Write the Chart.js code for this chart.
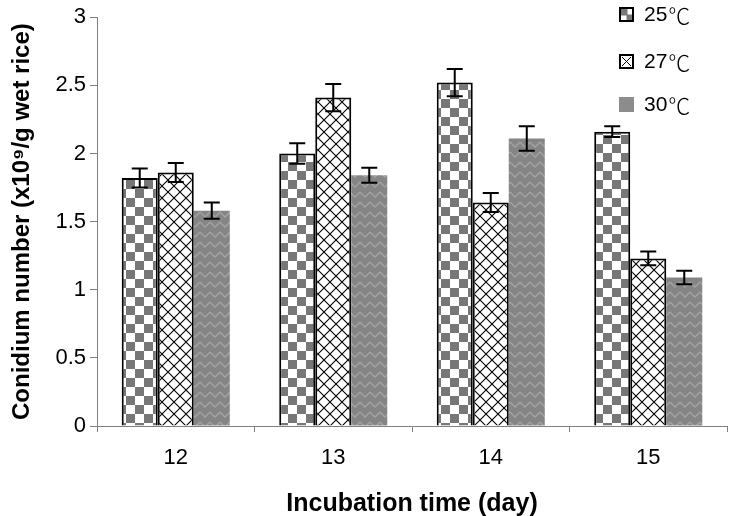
<!DOCTYPE html>
<html><head><meta charset="utf-8">
<script src="https://cdn.jsdelivr.net/npm/chart.js@4"></script>
<style>html,body{margin:0;padding:0;background:#fff}#wrap{width:730px;height:516px;position:relative}</style>
</head><body><div id="wrap"><canvas id="c" width="730" height="516"></canvas></div>
<script>
const categories = ['12', '13', '14', '15'];
const seriesNames = ['25', '27', '30'];
const unit = '℃';
const values25 = [1.82, 2.00, 2.52, 2.16];
const values27 = [1.86, 2.41, 1.64, 1.23];
const values30 = [1.58, 1.84, 2.11, 1.09];
const errors25 = [0.07, 0.075, 0.10, 0.04];
const errors27 = [0.07, 0.10, 0.07, 0.05];
const errors30 = [0.06, 0.055, 0.09, 0.05];
const yTicks = [0, 0.5, 1, 1.5, 2, 2.5, 3];
const yTickLabels = ['0', '0.5', '1', '1.5', '2', '2.5', '3'];
const xTitle = 'Incubation time (day)';
const yTitle = 'Conidium number (x10⁹/g wet rice)';

const FONT = '"Liberation Sans", Arial, sans-serif';
function mk(w, h, fn) { const c = document.createElement('canvas'); c.width = w; c.height = h; const g = c.getContext('2d'); fn(g); return g.createPattern(c, 'repeat'); }
const checker = mk(18, 18, g => { g.fillStyle = '#fff'; g.fillRect(0,0,18,18); g.fillStyle = '#777'; g.fillRect(0,0,9,9); g.fillRect(9,9,9,9); });
const diamond = mk(12, 12, g => { g.fillStyle = '#fff'; g.fillRect(0,0,12,12); g.strokeStyle = '#000'; g.lineWidth = 1.1;
  g.beginPath(); g.moveTo(-1,-1); g.lineTo(13,13); g.moveTo(13,-1); g.lineTo(-1,13); g.stroke(); });
const zig = mk(10, 10, g => { g.fillStyle = '#858585'; g.fillRect(0,0,10,10); g.strokeStyle = '#a3a3a3'; g.lineWidth = 1.3;
  g.beginPath(); g.moveTo(0,2); g.lineTo(5,7); g.lineTo(10,2); g.stroke(); });

const errs = [errors25, errors27, errors30];
const fills = [checker, diamond, zig];

const errorBars = {
  id: 'errorBars',
  afterDatasetsDraw(chart) {
    const ctx = chart.ctx, y = chart.scales.y;
    ctx.save(); ctx.strokeStyle = '#000'; ctx.lineWidth = 2;
    chart.data.datasets.forEach((ds, di) => {
      chart.getDatasetMeta(di).data.forEach((bar, i) => {
        const v = ds.data[i], e = errs[di][i];
        const t = y.getPixelForValue(v + e), b = y.getPixelForValue(v - e), x = bar.x;
        ctx.beginPath();
        ctx.moveTo(x, t); ctx.lineTo(x, b);
        ctx.moveTo(x - 8, t); ctx.lineTo(x + 8, t);
        ctx.moveTo(x - 8, b); ctx.lineTo(x + 8, b);
        ctx.stroke();
      });
    });
    ctx.restore();
  }
};

const legendPlugin = {
  id: 'customLegend',
  afterDraw(chart) {
    const ctx = chart.ctx;
    const ys = [14, 61, 104];
    ctx.save();
    ctx.textBaseline = 'middle';
    seriesNames.forEach((n, i) => {
      const x = 619, y = ys[i] - 7, s = 15;
      if (i === 0) {
        ctx.fillStyle = '#fff'; ctx.fillRect(x, y, s, s);
        ctx.fillStyle = '#777'; ctx.fillRect(x + 1, y + 1, s/2, s/2); ctx.fillRect(x + s/2, y + s/2, s/2 - 1, s/2 - 1);
        ctx.strokeStyle = '#000'; ctx.lineWidth = 2; ctx.strokeRect(x + 1, y + 1, s - 2, s - 2);
      } else if (i === 1) {
        ctx.fillStyle = '#fff'; ctx.fillRect(x, y, s, s);
        ctx.strokeStyle = '#000'; ctx.lineWidth = 1;
        ctx.beginPath(); ctx.moveTo(x+3, y+3); ctx.lineTo(x+s-3, y+s-3); ctx.moveTo(x+s-3, y+3); ctx.lineTo(x+3, y+s-3); ctx.stroke();
        ctx.lineWidth = 2; ctx.strokeRect(x + 1, y + 1, s - 2, s - 2);
      } else {
        ctx.fillStyle = '#8c8c8c'; ctx.fillRect(x, y, s, s);
      }
      ctx.fillStyle = '#000';
      ctx.font = '21px ' + FONT;
      ctx.fillText(n, 644, ys[i] + 1);
      const w = ctx.measureText(n).width;
      ctx.font = '300 22px "Noto Sans CJK SC", sans-serif';
      ctx.fillText(unit, 644 + w + 1, ys[i] + 2);
    });
    ctx.restore();
  }
};

new Chart(document.getElementById('c'), {
  type: 'bar',
  data: {
    labels: categories,
    datasets: [
      { label: seriesNames[0] + unit, data: values25, backgroundColor: fills[0], borderColor: '#000', borderWidth: 2 },
      { label: seriesNames[1] + unit, data: values27, backgroundColor: fills[1], borderColor: '#000', borderWidth: 2 },
      { label: seriesNames[2] + unit, data: values30, backgroundColor: fills[2], borderWidth: 0 }
    ]
  },
  options: {
    responsive: false,
    animation: false,
    devicePixelRatio: 1,
    layout: { padding: { top: 14, right: 3, left: 0, bottom: 0 } },
    datasets: { bar: { categoryPercentage: 0.686, barPercentage: 1 } },
    plugins: { legend: { display: false }, tooltip: { enabled: false } },
    scales: {
      x: {
        afterFit: s => { s.height = 90; },
        grid: { display: true, drawOnChartArea: false, drawTicks: true, tickLength: 6, color: '#808080', offset: true },
        border: { color: '#808080', width: 1 },
        ticks: { color: '#000', font: { family: FONT, size: 22 }, padding: 13 },
        title: { display: true, text: xTitle, color: '#000', font: { family: FONT, size: 25, weight: 'bold', lineHeight: 1 }, padding: { top: 0, bottom: -1 } }
      },
      y: {
        min: 0, max: 3,
        afterFit: s => { s.width = 97; },
        afterBuildTicks: s => { s.ticks = yTicks.map(v => ({ value: v })); },
        grid: { display: true, drawOnChartArea: false, drawTicks: true, tickLength: 7, color: '#808080' },
        border: { color: '#808080', width: 1 },
        ticks: { color: '#000', font: { family: FONT, size: 22 }, padding: 4,
          callback: (v) => yTickLabels[yTicks.indexOf(v)] },
        title: { display: true, text: yTitle, color: '#000', font: { family: FONT, size: 24, weight: 'bold', lineHeight: 1 }, padding: { top: 10, bottom: 0 } }
      }
    }
  },
  plugins: [errorBars, legendPlugin]
});
</script></body></html>
